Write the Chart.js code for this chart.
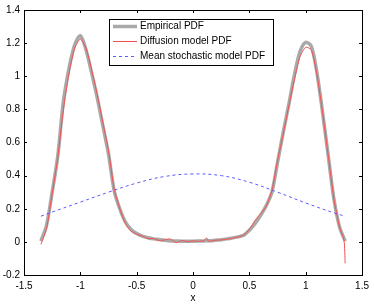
<!DOCTYPE html>
<html><head><meta charset="utf-8">
<script src="https://cdn.jsdelivr.net/npm/chart.js@4/dist/chart.umd.min.js"></script>
<style>html,body{margin:0;padding:0;background:#fff}#wrap{width:374px;height:304px}</style>
</head><body><div id="wrap"><canvas id="c" width="374" height="304"></canvas></div>
<script>
const empX = [-1.35,-1.30,-1.25,-1.20,-1.15,-1.10,-1.05,-1.00,-0.95,-0.90,-0.85,-0.80,-0.75,-0.70,-0.65,-0.60,-0.55,-0.50,-0.45,-0.40,-0.35,-0.30,-0.25,-0.20,-0.15,-0.10,-0.05,0,0.05,0.10,0.15,0.20,0.25,0.30,0.35,0.40,0.45,0.50,0.55,0.60,0.65,0.70,0.75,0.80,0.85,0.90,0.95,1.00,1.05,1.10,1.15,1.20,1.25,1.30,1.35];
const empirical = [0.005,0.10,0.30,0.52,0.85,1.05,1.19,1.245,1.16,1.02,0.87,0.70,0.53,0.31,0.20,0.12,0.075,0.05,0.035,0.025,0.018,0.014,0.01,0.006,0.005,0.004,0.004,0.004,0.005,0.006,0.007,0.01,0.013,0.018,0.024,0.03,0.04,0.07,0.11,0.16,0.22,0.30,0.48,0.66,0.83,1.01,1.15,1.205,1.18,1.02,0.78,0.52,0.26,0.09,0.005];
const diffX = [-1.35,-1.30,-1.25,-1.20,-1.15,-1.10,-1.05,-1.00,-0.95,-0.90,-0.85,-0.80,-0.75,-0.70,-0.65,-0.60,-0.55,-0.50,-0.45,-0.40,-0.35,-0.30,-0.25,-0.20,-0.15,-0.10,-0.05,0,0.05,0.10,0.12,0.14,0.15,0.20,0.25,0.30,0.35,0.40,0.45,0.50,0.55,0.60,0.65,0.70,0.75,0.80,0.85,0.90,0.95,1.00,1.05,1.10,1.15,1.20,1.25,1.30,1.34,1.35];
const diffusion = [-0.015,0.08,0.29,0.51,0.80,1.02,1.17,1.225,1.17,1.04,0.89,0.72,0.55,0.32,0.20,0.11,0.065,0.045,0.035,0.02,0.02,0.008,0.012,0.018,-0.005,0.008,0.002,0.006,0.003,0.008,0.025,0.002,0.004,0.01,0.012,0.016,0.022,0.03,0.042,0.075,0.13,0.17,0.215,0.31,0.49,0.65,0.82,0.98,1.12,1.175,1.16,1.01,0.78,0.52,0.26,0.09,0.01,-0.13];
const meanX = [-1.35,-1.25,-1.00,-0.75,-0.50,-0.25,0,0.25,0.50,0.75,1.00,1.25,1.35];
const meanStochastic = [0.155,0.18,0.24,0.30,0.355,0.395,0.41,0.40,0.36,0.30,0.235,0.175,0.155];
const xTicks = [-1.5,-1,-0.5,0,0.5,1,1.5];
const yTicks = [-0.2,0,0.2,0.4,0.6,0.8,1,1.2,1.4];
const seriesNames = ['Empirical PDF','Diffusion model PDF','Mean stochastic model PDF'];

const pts = (xs, ys) => xs.map((x,i)=>({x:x,y:ys[i]}));
const FONT = 'Liberation Sans, Arial, sans-serif';

const frame = {
  id:'frame',
  afterDraw(chart){
    const ctx = chart.ctx, a = chart.chartArea, xs = chart.scales.x, ys = chart.scales.y;
    ctx.save();
    ctx.strokeStyle = '#000'; ctx.lineWidth = 1;
    ctx.strokeRect(Math.round(a.left)+0.5, Math.round(a.top)+0.5, Math.round(a.right-a.left), Math.round(a.bottom-a.top));
    ctx.beginPath();
    xTicks.forEach(v=>{ const p = Math.round(xs.getPixelForValue(v))+0.5;
      ctx.moveTo(p,a.bottom); ctx.lineTo(p,a.bottom-3); ctx.moveTo(p,a.top); ctx.lineTo(p,a.top+3);});
    yTicks.forEach(v=>{ const p = Math.round(ys.getPixelForValue(v))+0.5;
      ctx.moveTo(a.left,p); ctx.lineTo(a.left+3,p); ctx.moveTo(a.right,p); ctx.lineTo(a.right-3,p);});
    ctx.stroke();
    // legend
    const bx = 109.5, by = 19.5, bw = 164, bh = 46;
    ctx.fillStyle = '#fff'; ctx.fillRect(bx,by,bw,bh);
    ctx.strokeStyle = '#000'; ctx.strokeRect(bx,by,bw,bh);
    const rows = [26.5, 41.5, 56.5];
    chart.data.datasets.forEach((ds,i)=>{
      ctx.save();
      ctx.strokeStyle = ds.borderColor; ctx.lineWidth = ds.borderWidth;
      ctx.setLineDash(ds.borderDash || []);
      ctx.beginPath(); ctx.moveTo(113, rows[i]); ctx.lineTo(137, rows[i]); ctx.stroke();
      ctx.restore();
      ctx.fillStyle = '#000'; ctx.font = '10px ' + FONT; ctx.textBaseline = 'middle';
      ctx.fillText(ds.label, 140, rows[i]);
    });
    ctx.restore();
  }
};

new Chart(document.getElementById('c'), {
  type:'line',
  data:{ datasets:[
    {label:seriesNames[0], data:pts(empX,empirical), borderColor:'rgba(160,160,160,0.9)', borderWidth:3.5, pointRadius:0, tension:0.3, order:3},
    {label:seriesNames[1], data:pts(diffX,diffusion), borderColor:'rgb(245,80,80)', borderWidth:1, pointRadius:0, tension:0.2, order:2},
    {label:seriesNames[2], data:pts(meanX,meanStochastic), borderColor:'rgb(90,90,255)', borderWidth:1, borderDash:[3,3], pointRadius:0, tension:0.4, order:1}
  ]},
  options:{
    responsive:false, animation:false, events:[],
    layout:{padding:{top:8,right:11,left:0,bottom:0}},
    plugins:{legend:{display:false}, tooltip:{enabled:false}},
    scales:{
      x:{type:'linear', min:-1.5, max:1.5,
         afterBuildTicks:s=>{s.ticks = xTicks.map(v=>({value:v}));},
         afterFit:s=>{s.height = 29;},
         grid:{display:false, drawTicks:false}, border:{display:false},
         ticks:{padding:5, color:'#000', font:{family:FONT,size:10}, maxRotation:0, autoSkip:false, callback:v=>String(v)},
         title:{display:true, text:'x', color:'#000', font:{family:FONT,size:10}, padding:{top:0,bottom:0}}},
      y:{type:'linear', min:-0.2, max:1.4,
         afterBuildTicks:s=>{s.ticks = yTicks.map(v=>({value:v}));},
         afterFit:s=>{s.width = 24;},
         grid:{display:false, drawTicks:false}, border:{display:false},
         ticks:{padding:4, color:'#000', font:{family:FONT,size:10}, autoSkip:false, callback:v=>String(Number(v.toFixed(1)))}}
    }
  },
  plugins:[frame]
});
</script></body></html>
